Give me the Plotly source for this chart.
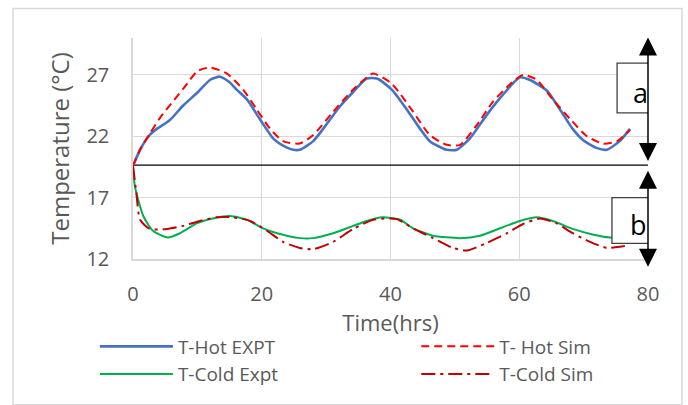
import plotly.graph_objects as go

# ---- data ----
hot_expt_x = [0, 1.2, 2.6, 3.7, 5.7, 7.8, 10.1, 12, 13.5, 15, 16.1, 17.7, 19.7, 21.8, 23.1, 24.9, 25.9,
              28.0, 30.1, 32.1, 34.2, 36.3, 37.9, 40.2, 42.5, 44.6, 46.1, 48.7, 50.3, 52.3, 54.9, 57.5,
              60.1, 61.6, 64.3, 66.3, 68.3, 69.9, 72, 73.6, 75.6, 77.2]
hot_expt_y = [19.6, 21.0, 22.1, 22.6, 23.3, 24.5, 25.6, 26.6, 26.85, 26.4, 25.8, 25.0, 23.4, 21.8, 21.3, 20.9, 20.9,
              21.6, 23.0, 24.4, 25.6, 26.7, 26.7, 25.8, 24.2, 22.6, 21.6, 20.9, 20.9, 21.8, 23.7, 25.4,
              26.8, 26.6, 25.7, 24.2, 22.6, 21.7, 21.05, 20.9, 21.6, 22.6]

hot_sim_x = [0, 1.2, 2.6, 4.2, 6, 8, 10, 12, 14.6, 17.1, 19.2, 21.3, 23.3, 25.9, 28, 31.1, 34.2, 37.3,
             39.9, 41, 43.5, 46.1, 48.7, 50.8, 53.4, 55.9, 58.5, 60.6, 62.7, 65.2, 67.9, 70.5, 73, 75.2, 77.2]
hot_sim_y = [19.6, 21.0, 22.2, 23.5, 24.7, 26.0, 27.3, 27.6, 27.1, 25.8, 24.2, 22.6, 21.6, 21.4, 22.1, 24.0, 25.8, 27.1,
             26.4, 25.8, 24.0, 22.1, 21.3, 21.3, 22.9, 24.8, 26.2, 27.0, 26.6, 25.0, 23.4, 22.0, 21.4, 21.6, 22.5]

cold_expt_x = [0, 0.3, 1.6, 3.1, 5.4, 7.3, 9.9, 12.4, 15.1, 17.7, 20.2, 22.4, 25.9, 28, 31.1, 34.2, 36.3, 38.7,
               41.5, 43.5, 46.6, 50.8, 53.9, 57, 60.1, 62.7, 65.2, 68.3, 71.4, 74.1, 77.2]
cold_expt_y = [19.6, 17.9, 15.5, 14.3, 13.75, 14.1, 14.9, 15.3, 15.5, 15.2, 14.5, 14.1, 13.7, 13.7, 14.1, 14.7, 15.1, 15.4,
               15.2, 14.5, 13.9, 13.7, 13.9, 14.5, 15.1, 15.4, 15.1, 14.45, 14.0, 13.75, 13.7]

cold_sim_x = [0, 0.5, 1.1, 2.6, 5.3, 7.8, 10.4, 13, 15.5, 18.2, 20.8, 23.3, 25.9, 28, 31.1, 34.2, 37.3, 39.9,
              41, 43.5, 46.6, 49.7, 51.9, 54.9, 58.1, 60.6, 63.2, 65.8, 68.3, 71, 73.6, 75.6, 77.2]
cold_sim_y = [19.6, 17.5, 15.2, 14.45, 14.45, 14.7, 15.1, 15.4, 15.4, 15.1, 14.3, 13.4, 12.9, 12.8, 13.4, 14.45, 15.2, 15.3,
              15.25, 14.5, 13.7, 12.9, 12.7, 13.3, 14.1, 14.85, 15.3, 14.9, 14.1, 13.4, 12.9, 13.0, 13.1]

divider_y = 19.65
x_ticks = [0, 20, 40, 60, 80]
y_ticks = [12, 17, 22, 27]

FONT = "Open Sans"
GRAY = "#595959"

fig = go.Figure()
fig.add_trace(go.Scatter(x=hot_expt_x, y=hot_expt_y, name="T-Hot EXPT", mode="lines",
                         line=dict(color="#4472C4", width=2.6, shape="spline", smoothing=0.6), legend="legend"))
fig.add_trace(go.Scatter(x=hot_sim_x, y=hot_sim_y, name="T- Hot Sim", mode="lines",
                         line=dict(color="#FF0000", width=2, dash="8px,5px", shape="spline", smoothing=0.6), legend="legend2"))
fig.add_trace(go.Scatter(x=cold_expt_x, y=cold_expt_y, name="T-Cold Expt", mode="lines",
                         line=dict(color="#00B050", width=2, shape="spline", smoothing=0.6), legend="legend"))
fig.add_trace(go.Scatter(x=cold_sim_x, y=cold_sim_y, name="T-Cold Sim", mode="lines",
                         line=dict(color="#C00000", width=2, dash="14px,5px,3px,5px", shape="spline", smoothing=0.6), legend="legend2"))

shapes = [
    # outer chart border
    dict(type="rect", xref="paper", yref="paper", x0=-0.233, x1=1.066, y0=-0.66, y1=1.133,
         line=dict(color="#d9d9d9", width=1.5), fillcolor="rgba(0,0,0,0)", layer="below"),
    # divider line
    dict(type="line", xref="x", yref="y", x0=0, x1=80, y0=divider_y, y1=divider_y,
         line=dict(color="black", width=1.2), layer="between"),
    # label boxes
    dict(type="rect", xref="x", yref="y", x0=75.2, x1=80.2, y0=23.9, y1=27.95,
         line=dict(color="#404040", width=1.3), fillcolor="white", layer="above"),
    dict(type="rect", xref="x", yref="y", x0=74.4, x1=80.2, y0=13.27, y1=17.0,
         line=dict(color="#404040", width=1.3), fillcolor="white", layer="above"),
]

annotations = [
    dict(x=80, y=30.05, ax=80, ay=19.85, xref="x", yref="y", axref="x", ayref="y", text="",
         showarrow=True, arrowside="end+start", arrowhead=2, startarrowhead=2,
         arrowsize=2.4, startarrowsize=2.4, arrowwidth=1.5, arrowcolor="black"),
    dict(x=80, y=11.37, ax=80, ay=19.3, xref="x", yref="y", axref="x", ayref="y", text="",
         showarrow=True, arrowside="end+start", arrowhead=2, startarrowhead=2,
         arrowsize=2.4, startarrowsize=2.4, arrowwidth=1.5, arrowcolor="black"),
    dict(x=78.9, y=25.6, xref="x", yref="y", text="a", showarrow=False,
         font=dict(family=FONT, size=27, color="black")),
    dict(x=78.5, y=14.8, xref="x", yref="y", text="b", showarrow=False,
         font=dict(family=FONT, size=27, color="black")),
]

legend_common = dict(orientation="v", bgcolor="rgba(0,0,0,0)", itemwidth=73,
                     font=dict(family=FONT, size=19, color=GRAY), xanchor="left", yanchor="top",
                     xref="paper", yref="paper", tracegroupgap=0)

fig.update_layout(
    width=688, height=405,
    margin=dict(l=133, r=40, t=38, b=141),
    paper_bgcolor="white", plot_bgcolor="white",
    font=dict(family=FONT, color=GRAY),
    shapes=shapes, annotations=annotations,
    showlegend=True,
    legend=dict(x=-0.074, y=-0.31, **legend_common),
    legend2=dict(x=0.55, y=-0.31, **legend_common),
    xaxis=dict(range=[0, 80], tickvals=x_ticks, showgrid=True, gridcolor="#d9d9d9", gridwidth=1.3,
               zeroline=False, showline=True, linecolor="#d9d9d9", linewidth=1.5,
               ticks="outside", ticklen=16, tickcolor="rgba(0,0,0,0)",
               tickfont=dict(family=FONT, size=20, color=GRAY),
               title=dict(text="Time(hrs)", font=dict(family=FONT, size=22, color=GRAY), standoff=8)),
    yaxis=dict(range=[12, 30], tickvals=y_ticks, showgrid=True, gridcolor="#d9d9d9", gridwidth=1.3,
               zeroline=False, showline=True, linecolor="#d9d9d9", linewidth=1.5,
               ticks="outside", ticklen=18, tickcolor="rgba(0,0,0,0)",
               tickfont=dict(family=FONT, size=20, color=GRAY),
               title=dict(text="Temperature (°C)", font=dict(family=FONT, size=24, color=GRAY), standoff=10)),
)

fig.write_html("out.html")
